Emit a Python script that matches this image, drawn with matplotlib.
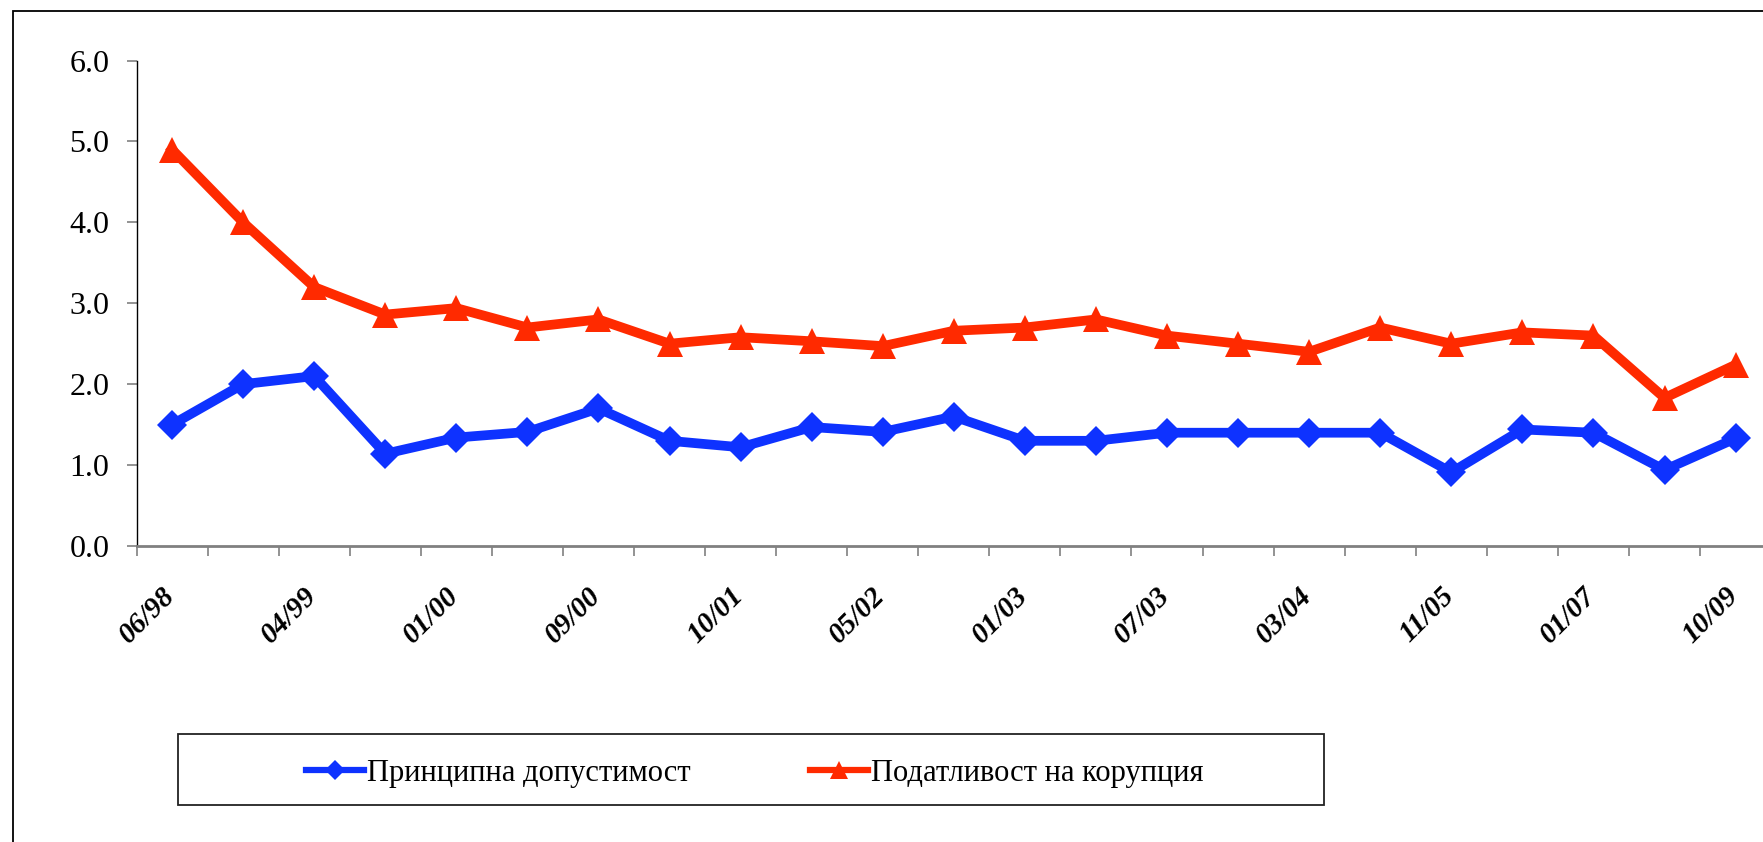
import matplotlib
matplotlib.use("Agg")
import matplotlib.pyplot as plt
from matplotlib.patches import Rectangle
from matplotlib.transforms import ScaledTranslation
import numpy as np

# ---- data ----
tick_labels = ["06/98", "04/99", "01/00", "09/00", "10/01", "05/02",
               "01/03", "07/03", "03/04", "11/05", "01/07", "10/09"]
series_blue_name = "Принципна допустимост"
series_red_name = "Податливост на корупция"
blue_values = [1.50, 2.00, 2.10, 1.14, 1.34, 1.41, 1.70, 1.30, 1.22, 1.47, 1.41, 1.60,
               1.30, 1.30, 1.40, 1.40, 1.40, 1.40, 0.91, 1.44, 1.40, 0.94, 1.33]
red_values = [4.90, 4.00, 3.20, 2.86, 2.94, 2.70, 2.80, 2.50, 2.58, 2.53, 2.47, 2.66,
              2.70, 2.80, 2.60, 2.50, 2.40, 2.70, 2.50, 2.64, 2.60, 1.83, 2.24]
y_ticks = [0.0, 1.0, 2.0, 3.0, 4.0, 5.0, 6.0]

BLUE = "#0E32FF"
RED = "#FF2A00"
SERIF = "Liberation Serif"

W, H = 1763, 842
fig = plt.figure(figsize=(W / 100, H / 100), dpi=100)
fig.patch.set_facecolor("white")

# outer chart frame (extends beyond right/bottom edges, as cropped in the reference)
fig.add_artist(Rectangle((12.5 / W, -0.1), 1.2, (H - 10.5) / H + 0.1,
                         transform=fig.transFigure, fill=False,
                         edgecolor="black", linewidth=1.3))

left_px, cat_w = 136.5, 71.07
n = len(blue_values)
ax_left = left_px / W
ax_w = (n * cat_w) / W
ax_bottom = (H - 546) / H
ax_h = (546 - 60.5) / H
ax = fig.add_axes([ax_left, ax_bottom, ax_w, ax_h])
ax.set_facecolor("none")

x = np.arange(n)
ax.plot(x, blue_values, color=BLUE, linewidth=7, marker="D", markersize=15.5,
        markeredgewidth=0, label=series_blue_name, zorder=3)
ax.plot(x, red_values, color=RED, linewidth=7, marker="^", markersize=19,
        markeredgewidth=0, label=series_red_name, zorder=3)

ax.set_xlim(-0.5, n - 0.5)
ax.set_ylim(0, 6)

for s in ["top", "right"]:
    ax.spines[s].set_visible(False)
ax.spines["left"].set_color("black")
ax.spines["left"].set_linewidth(1.0)
ax.spines["bottom"].set_color("#808080")
ax.spines["bottom"].set_linewidth(2.0)

ax.set_yticks(y_ticks)
ax.set_yticklabels([f"{v:.1f}" for v in y_ticks], fontfamily=SERIF, fontsize=23)
ax.tick_params(axis="y", direction="out", length=7.5, width=1.2, color="#808080",
               pad=12)

# category boundary ticks
ax.set_xticks(np.arange(n + 1) - 0.5)
ax.set_xticklabels([])
ax.tick_params(axis="x", which="major", direction="out", length=7, width=1.2,
               color="#808080")
# category labels (every second category)
label_pos = np.arange(0, n, 2)
ax.set_xticks(label_pos, minor=True)
ax.set_xticklabels(tick_labels, minor=True, rotation=45, ha="right", va="top",
                   fontfamily=SERIF, fontsize=21, fontweight="bold", fontstyle="italic")
ax.tick_params(axis="x", which="minor", length=0, pad=26)
shift = ScaledTranslation(8 / 100, 0, fig.dpi_scale_trans)
for lbl in ax.xaxis.get_minorticklabels():
    lbl.set_transform(lbl.get_transform() + shift)

# legend box
fig.add_artist(Rectangle((178 / W, (H - 805) / H), (1324 - 178) / W, 71 / H,
                         transform=fig.transFigure, fill=False,
                         edgecolor="#222222", linewidth=1.3))
leg = ax.legend(loc="center", bbox_to_anchor=(755 / W, (H - 773) / H),
                bbox_transform=fig.transFigure, ncol=2, frameon=False,
                prop={"family": SERIF, "size": 22}, handlelength=1.9,
                handletextpad=0.1, columnspacing=3.9, markerscale=0.65)
for h in leg.legend_handles:
    h.set_linewidth(4.5)

fig.savefig("out.png", dpi=100, facecolor="white")
